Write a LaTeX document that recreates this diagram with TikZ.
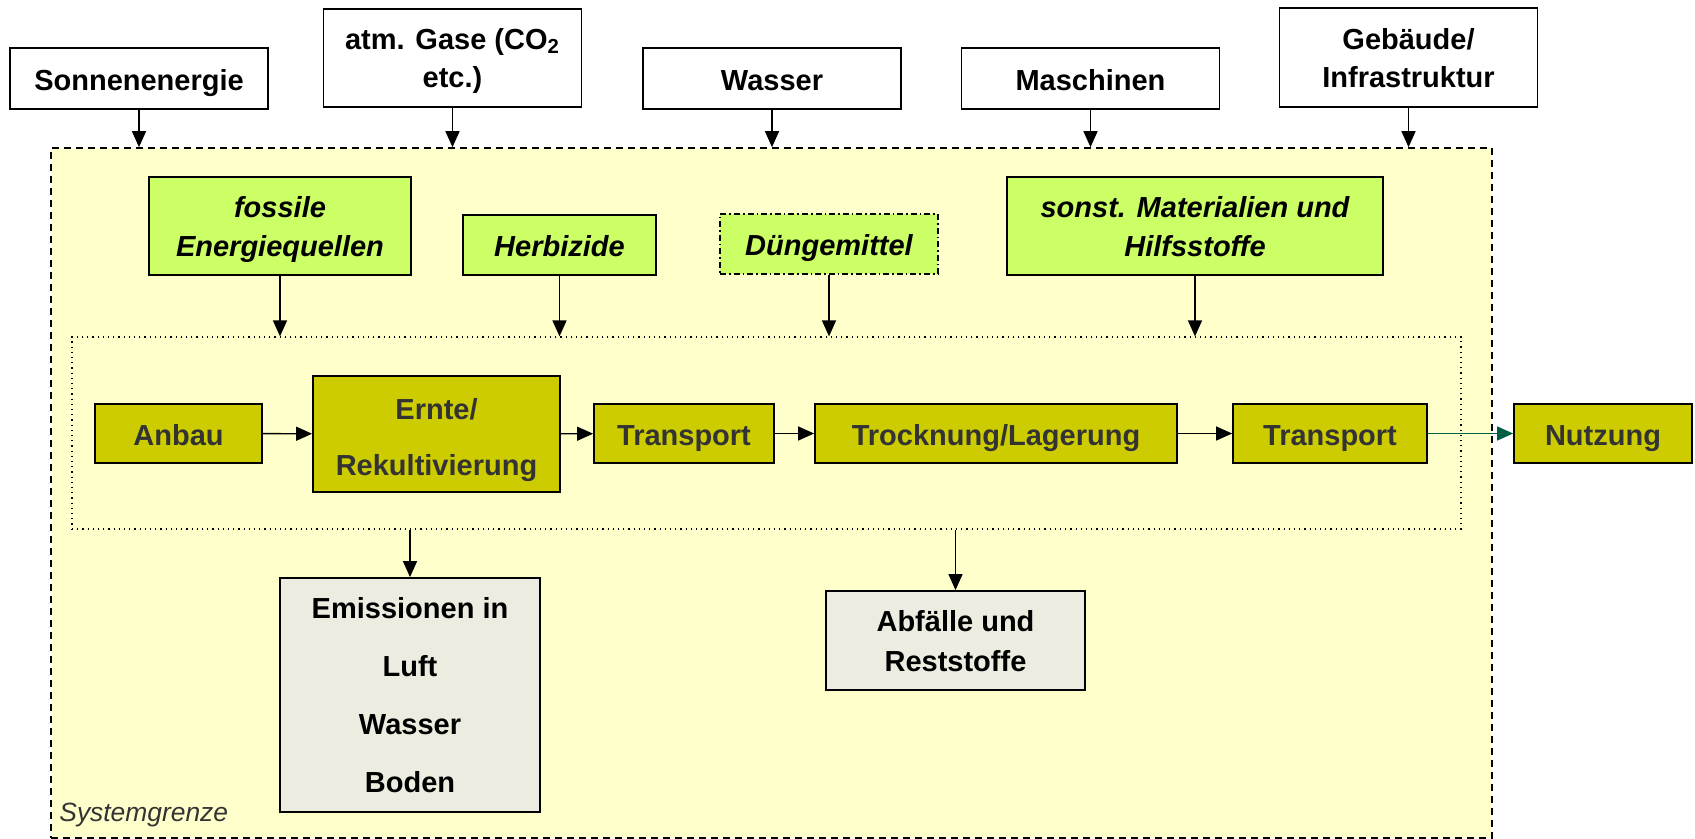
\documentclass[tikz,border=0pt]{standalone}
\usepackage{fontspec}
\setmainfont{Liberation Sans}
\usetikzlibrary{arrows.meta}

\definecolor{grenzgelb}{HTML}{FFFFCC}
\definecolor{hilfgruen}{HTML}{CCFF66}
\definecolor{prozessgelb}{HTML}{CCCC00}
\definecolor{ausgabegrau}{HTML}{EDECE0}
\definecolor{textgrau}{HTML}{333333}
\definecolor{pfeilgruen}{HTML}{005E44}

\begin{document}
\begin{tikzpicture}[
    x=0.5pt, y=-0.5pt,
    every node/.style={inner sep=0pt, align=center, font=\bfseries\fontsize{14.5}{19}\selectfont},
    box/.style={rectangle, draw, line width=0.9pt, text depth=0pt},
    zeile/.style={text height=12pt},
    quelle/.style={box, fill=white, minimum width=129pt},
    hilfe/.style={box, fill=hilfgruen, font=\bfseries\itshape\fontsize{14.5}{19.5}\selectfont},
    prozess/.style={box, zeile, fill=prozessgelb, text=textgrau, minimum height=29.5pt},
    ausgabe/.style={box, fill=ausgabegrau, minimum width=130pt},
    pfeil/.style={-{Triangle[length=8pt,width=7pt]}, line width=0.7pt}
]
\useasboundingbox (0,0) rectangle (1695,839);

% System boundary
\node[draw, dashed, dash pattern=on 3.5pt off 2.5pt, line width=0.8pt, fill=grenzgelb,
      minimum width=720.5pt, minimum height=345pt] (grenze) at (771.5,493) {};
\node[anchor=west, font=\itshape\fontsize{13.2}{15}\selectfont, text=textgrau] (grenztext) at (59,815) {Systemgrenze};

% Inputs from outside
\node[quelle, zeile, minimum height=30.5pt] (sonne) at (139,78.5) {Sonnenenergie};
\node[quelle, minimum height=49pt] (gase) at (452.5,58) {atm. Gase (CO\textsubscript{2}\\etc.)};
\node[quelle, zeile, minimum height=30.5pt] (wasser) at (772,78.5) {Wasser};
\node[quelle, zeile, minimum height=30.5pt] (maschinen) at (1090.5,78.5) {Maschinen};
\node[quelle, minimum height=49.5pt] (gebaeude) at (1408.5,57.5) {Gebäude/\\Infrastruktur};

% Auxiliary inputs
\node[hilfe, minimum width=131pt, minimum height=49pt] (fossil) at (280,226) {fossile\\Energiequellen};
\node[hilfe, zeile, minimum width=96.5pt, minimum height=30pt] (herbizide) at (559.5,245) {Herbizide};
\node[hilfe, zeile, dash pattern=on 3pt off 1.5pt on 0.8pt off 1.5pt, line width=0.7pt,
      minimum width=109pt, minimum height=30pt] (duenger) at (829,244) {Düngemittel};
\node[hilfe, minimum width=188pt, minimum height=49pt] (sonstige) at (1195,226) {sonst. Materialien und\\Hilfsstoffe};

% Process chain
\node[draw, dotted, line width=0.6pt, minimum width=694.5pt, minimum height=96pt] (kette) at (766.5,433) {};
\node[prozess, minimum width=83.5pt] (anbau) at (178.5,433.5) {Anbau};
\node[prozess, text height=41pt, minimum width=123.5pt, minimum height=58pt, font=\bfseries\fontsize{14.5}{28}\selectfont] (ernte) at (436.5,434) {Ernte/\\Rekultivierung};
\node[prozess, minimum width=90pt] (transport1) at (684,433.5) {Transport};
\node[prozess, minimum width=181pt] (trocknung) at (996,433.5) {Trocknung/Lagerung};
\node[prozess, minimum width=97pt] (transport2) at (1330,433.5) {Transport};
\node[prozess, minimum width=89pt] (nutzung) at (1603,433.5) {Nutzung};

% Outputs
\node[ausgabe, minimum height=117pt, font=\bfseries\fontsize{14.5}{29}\selectfont] (emission) at (410,695) {Emissionen in\\Luft\\Wasser\\Boden};
\node[ausgabe, minimum width=129.5pt, minimum height=49.5pt, font=\bfseries\fontsize{14.5}{20}\selectfont] (abfall) at (955.5,640.5) {Abfälle und\\Reststoffe};

% Connections
\foreach \n in {sonne, gase, wasser, maschinen, gebaeude}
    \draw[pfeil] (\n.south) -- (\n.south |- grenze.north);
\foreach \n in {fossil, herbizide, duenger, sonstige}
    \draw[pfeil] (\n.south) -- (\n.south |- kette.north);

\draw[pfeil] (anbau) -- (ernte);
\draw[pfeil] (ernte) -- (transport1);
\draw[pfeil] (transport1) -- (trocknung);
\draw[pfeil] (trocknung) -- (transport2);
\draw[pfeil, pfeilgruen] (transport2) -- (nutzung);

\draw[pfeil] (emission.north |- kette.south) -- (emission.north);
\draw[pfeil] (abfall.north |- kette.south) -- (abfall.north);

\end{tikzpicture}
\end{document}
